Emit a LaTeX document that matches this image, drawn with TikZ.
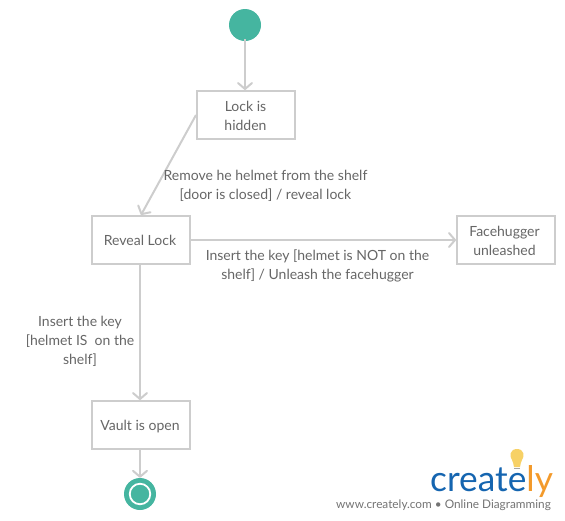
\documentclass[tikz,border=0pt]{standalone}
\usepackage{fontspec}
\setmainfont{Lato}
\usetikzlibrary{arrows.meta}
\definecolor{teal1}{HTML}{45B5A0}
\definecolor{linec}{HTML}{CDCDCD}
\definecolor{textc}{HTML}{666666}
\definecolor{logoblue}{HTML}{1565B0}
\definecolor{logoorange}{HTML}{F39A2B}
\definecolor{bulb}{HTML}{F7D166}
\tikzset{
  x=1pt,y=-1pt,
  statebox/.style={draw=linec,line width=2pt,fill=white,minimum width=98pt,minimum height=48pt,inner sep=0pt},
  lab/.style={text=textc,align=center,inner sep=0pt,font=\fontsize{14}{19}\selectfont},
  conn/.style={draw=linec,line width=2pt,-{Straight Barb[length=6pt,width=14pt,line width=2pt,round]}},
  startdot/.style={circle,fill=teal1,minimum size=32pt,inner sep=0pt},
}
\begin{document}
\begin{tikzpicture}
\useasboundingbox (0,0) rectangle (565,520);
\node[startdot] (start) at (245,25) {};
\node[statebox] (lock) at (246,115) {};
\node[statebox] (reveal) at (141,240) {};
\node[statebox] (face) at (506,240) {};
\node[statebox] (vault) at (141,425) {};
\node[lab,xshift=-0.5pt,yshift=-1pt] (locktext) at (lock.center) {Lock is\\hidden};
\node[lab,xshift=-1pt] (revealtext) at (reveal.center) {Reveal Lock};
\node[lab,xshift=-1.5pt,yshift=-1pt] (facetext) at (face.center) {Facehugger\\unleashed};
\node[lab,xshift=-1pt,yshift=-1.5pt] (vaulttext) at (vault.center) {Vault is open};
\node[startdot] (end) at (140,494) {};
\node[circle,draw=white,line width=1.8pt,minimum size=20.5pt,inner sep=0pt] (endring) at (end.center) {};
\draw[conn] (start.center) ++(0,14) coordinate (s1) (s1) -- (start.center |- lock.north);
\draw[conn] (lock.west) -- (reveal.north);
\draw[conn] (reveal.east) -- (face.west);
\draw[conn] (reveal.south -| end.center) -- (vault.north -| end.center);
\draw[conn] (vault.south -| end.center) -- (end.north);
\node[lab] (l1) at (265.5,186) {Remove he helmet from the shelf\\{}[door is closed] / reveal lock};
\node[lab] (l2) at (317.5,266) {Insert the key [helmet is NOT on the\\shelf] / Unleash the facehugger};
\node[lab] (l3) at (80,341) {Insert the key\\{}[helmet IS\ \ on the\\shelf]};
% logo
\node[inner sep=0pt,anchor=base west,text=logoblue,font=\fontsize{35.3}{36}\selectfont] (logo) at (430,491) {creat\textcolor{logoblue}{e}\textcolor{logoorange}{ly}};
\fill[bulb] (517,449) .. controls (510,449) and (509,456) .. (512,460) .. controls (513,462) and (513.5,464) .. (514,467) -- (520,467) .. controls (520.5,464) and (521,462) .. (522,460) .. controls (525,456) and (524,449) .. (517,449) -- cycle;
\fill[black!35] (514,467.5) rectangle (520,469);
\node[anchor=base west,inner sep=0pt,text=black!55,font=\fontsize{11.8}{14}\selectfont] (url) at (336,508) {www.creately.com • Online Diagramming};
\end{tikzpicture}
\end{document}
